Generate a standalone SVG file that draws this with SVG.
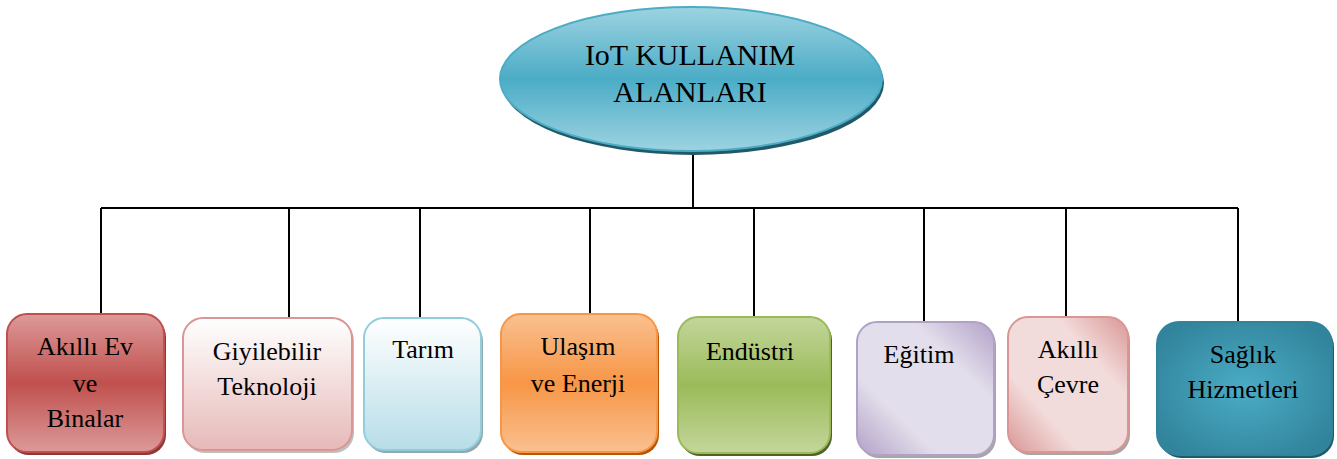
<svg xmlns="http://www.w3.org/2000/svg" width="1337" height="459" viewBox="0 0 1337 459">
<defs>
<linearGradient id="gEll" x1="0" y1="0" x2="0" y2="1"><stop offset="0" stop-color="#9dd3e1"/><stop offset="0.5" stop-color="#4bacc6"/><stop offset="1" stop-color="#9dd3e1"/></linearGradient>
<linearGradient id="gRed" x1="0" y1="0" x2="0" y2="1"><stop offset="0" stop-color="#dc9a99"/><stop offset="0.5" stop-color="#c0504d"/><stop offset="1" stop-color="#dc9a99"/></linearGradient>
<linearGradient id="gPink" x1="0" y1="0" x2="0" y2="1"><stop offset="0" stop-color="#ffffff"/><stop offset="1" stop-color="#e6b9b8"/></linearGradient>
<linearGradient id="gBlue" x1="0" y1="0" x2="0" y2="1"><stop offset="0" stop-color="#ffffff"/><stop offset="1" stop-color="#b7dde8"/></linearGradient>
<linearGradient id="gOr" x1="0" y1="0" x2="0" y2="1"><stop offset="0" stop-color="#fac090"/><stop offset="0.5" stop-color="#f79646"/><stop offset="1" stop-color="#fac090"/></linearGradient>
<linearGradient id="gGr" x1="0" y1="0" x2="0" y2="1"><stop offset="0" stop-color="#c3d69b"/><stop offset="0.5" stop-color="#9bbb59"/><stop offset="1" stop-color="#c3d69b"/></linearGradient>
<linearGradient id="gPur" x1="1" y1="0" x2="0" y2="1"><stop offset="0" stop-color="#b2a1c7"/><stop offset="0.3" stop-color="#e3deeb"/><stop offset="0.7" stop-color="#e3deeb"/><stop offset="1" stop-color="#b2a1c7"/></linearGradient>
<linearGradient id="gRose" x1="1" y1="0" x2="0" y2="1"><stop offset="0" stop-color="#d99694"/><stop offset="0.3" stop-color="#f2dcdb"/><stop offset="0.7" stop-color="#f2dcdb"/><stop offset="1" stop-color="#d99694"/></linearGradient>
<radialGradient id="gTeal" cx="0.5" cy="0.5" r="0.6"><stop offset="0" stop-color="#4bacc6"/><stop offset="1" stop-color="#31849b"/></radialGradient>
<style>
text{font-family:'Liberation Serif','Times New Roman','DejaVu Serif',serif;font-size:26px;fill:#000;text-anchor:middle}
.title{font-size:30px}
.conn{stroke:#000;stroke-width:2;fill:none}
</style>
</defs>
<g id="connectors">
<path class="conn" d="M693 152V208M101 208H1238M101 208V315M289 208V318M420 208V318M590 208V314M754 208V317M924 208V322M1066 208V317M1238 208V322"/>
</g>
<g id="root">
<ellipse cx="693" cy="83" rx="191" ry="72" fill="#215968"/>
<ellipse cx="691" cy="79" rx="191" ry="72" fill="url(#gEll)" stroke="#4bacc6" stroke-width="2"/>
<text class="title" x="690" y="65">IoT KULLANIM</text>
<text class="title" x="690" y="102">ALANLARI</text>
</g>
<g id="n1">
<rect x="9" y="317" width="157" height="138" rx="20" fill="#8c3836"/>
<rect x="7" y="314" width="157" height="138" rx="20" fill="url(#gRed)" stroke="#c0504d" stroke-width="2"/>
<text x="85" y="355">Akıllı Ev</text><text x="85" y="392">ve</text><text x="85" y="427">Binalar</text>
</g>
<g id="n2">
<rect x="185" y="321" width="169" height="132" rx="20" fill="#bfbfbf"/>
<rect x="183" y="318" width="169" height="132" rx="20" fill="url(#gPink)" stroke="#d99694" stroke-width="2"/>
<text x="267" y="360">Giyilebilir</text><text x="267" y="395">Teknoloji</text>
</g>
<g id="n3">
<rect x="366" y="321" width="117" height="132" rx="20" fill="#8fa9b1"/>
<rect x="364" y="318" width="117" height="132" rx="20" fill="url(#gBlue)" stroke="#92cddc" stroke-width="2"/>
<text x="423" y="358">Tarım</text>
</g>
<g id="n4">
<rect x="503" y="317" width="156" height="138" rx="20" fill="#b65708"/>
<rect x="501" y="314" width="156" height="138" rx="20" fill="url(#gOr)" stroke="#f79646" stroke-width="2"/>
<text x="578" y="355">Ulaşım</text><text x="578" y="392">ve Enerji</text>
</g>
<g id="n5">
<rect x="680" y="320" width="152" height="136" rx="20" fill="#4f6228"/>
<rect x="678" y="317" width="152" height="136" rx="20" fill="url(#gGr)" stroke="#9bbb59" stroke-width="2"/>
<text x="750" y="360">Endüstri</text>
</g>
<g id="n6">
<rect x="859" y="325" width="137" height="133" rx="20" fill="#a6a6a6"/>
<rect x="857" y="322" width="137" height="133" rx="20" fill="url(#gPur)" stroke="#b2a1c7" stroke-width="2"/>
<text x="919" y="363">Eğitim</text>
</g>
<g id="n7">
<rect x="1010" y="320" width="120" height="135" rx="20" fill="#a6a6a6"/>
<rect x="1008" y="317" width="120" height="135" rx="20" fill="url(#gRose)" stroke="#d99694" stroke-width="2"/>
<text x="1068" y="358">Akıllı</text><text x="1068" y="393">Çevre</text>
</g>
<g id="n8">
<rect x="1159" y="325" width="175" height="133" rx="22" fill="#215968"/>
<rect x="1157" y="322" width="175" height="133" rx="22" fill="url(#gTeal)" stroke="#31849b" stroke-width="2"/>
<text x="1243" y="363">Sağlık</text><text x="1243" y="398">Hizmetleri</text>
</g>
</svg>
